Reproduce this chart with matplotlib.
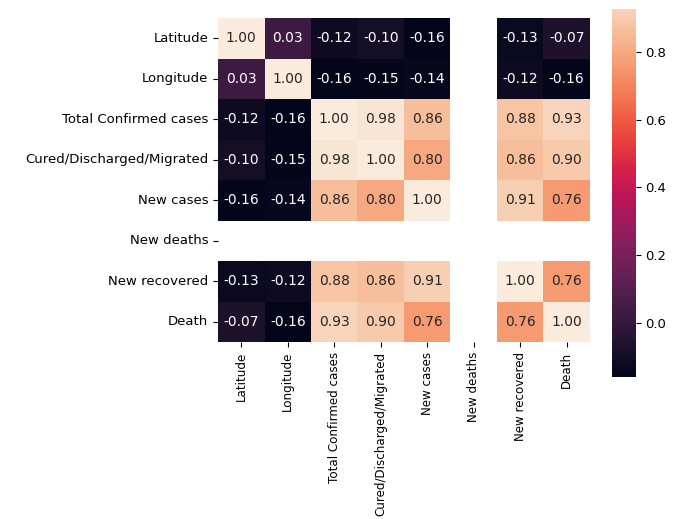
import numpy as np
import pandas as pd
import seaborn as sns
import matplotlib
matplotlib.use("Agg")
import matplotlib.pyplot as plt

labels = ["Latitude", "Longitude", "Total Confirmed cases", "Cured/Discharged/Migrated",
          "New cases", "New deaths", "New recovered", "Death"]
nan = np.nan
lat = [1.00, 0.03, -0.12, -0.10, -0.16, nan, -0.13, -0.07]
lon = [0.03, 1.00, -0.16, -0.15, -0.14, nan, -0.12, -0.16]
total = [-0.12, -0.16, 1.00, 0.98, 0.86, nan, 0.88, 0.93]
cured = [-0.10, -0.15, 0.98, 1.00, 0.80, nan, 0.86, 0.90]
new_cases = [-0.16, -0.14, 0.86, 0.80, 1.00, nan, 0.91, 0.76]
new_deaths = [nan] * 8
new_recovered = [-0.13, -0.12, 0.88, 0.86, 0.91, nan, 1.00, 0.76]
death = [-0.07, -0.16, 0.93, 0.90, 0.76, nan, 0.76, 1.00]

corr = pd.DataFrame([lat, lon, total, cured, new_cases, new_deaths, new_recovered, death],
                    index=labels, columns=labels)

fig = plt.figure(figsize=(6.8, 5.19), dpi=100)
ax = fig.add_axes([0.3206, 0.341, 0.547, 0.624])
cax = fig.add_axes([0.9, 0.2736, 0.035, 0.709])

sns.heatmap(corr, annot=True, fmt=".2f", ax=ax, cbar_ax=cax,
            annot_kws={"size": 10})
ax.tick_params(axis="y", labelsize=9.5)
ax.tick_params(axis="x", labelsize=8.6)
ax.set_yticklabels(labels, rotation=0)
ax.set_xticklabels(labels, rotation=90)
# screenshot crops the top of the colorbar
cax.set_ylim(-0.16, 0.927)
cax.tick_params(labelsize=9.5)
cax.set_yticks([0.0, 0.2, 0.4, 0.6, 0.8])

fig.savefig("out.png", dpi=100)
